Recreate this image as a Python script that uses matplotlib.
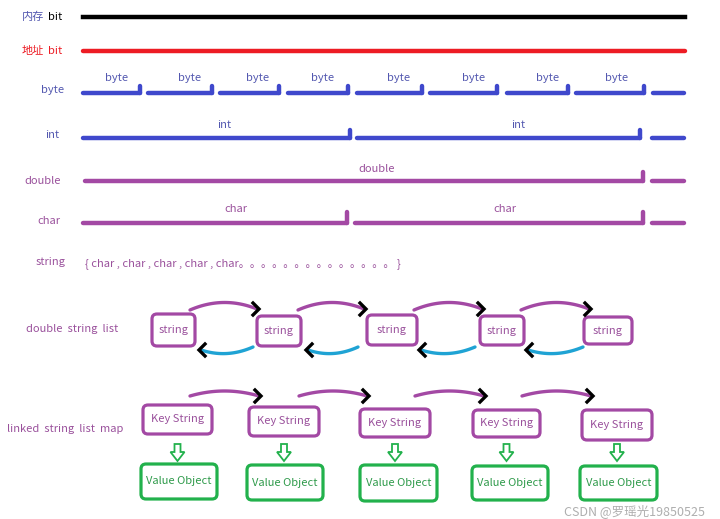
import numpy as np
import matplotlib.pyplot as plt
from matplotlib.patches import FancyBboxPatch, Polygon

plt.rcParams['font.family'] = ['Noto Sans CJK SC', 'DejaVu Sans']

BLUE = '#3f48cc'
PURPLE = '#a349a4'
RED = '#ed1c24'
CYAN = '#1fa3d4'
GREEN = '#22b14c'
TXT_BLUE = '#5358b0'
TXT_PURPLE = '#9a519c'
TXT_GREEN = '#2e9a4a'

# row labels
row_labels = ['byte', 'int', 'double', 'char', 'string', 'double  string  list', 'linked  string  list  map']
row_y = [90, 135, 181, 221, 262, 329, 429]
row_x = [53, 52, 43, 49, 51, 72, 65]

# segmented memory rows: (start, end, has_tick)
byte_segs = [(83, 140, 1), (148, 212, 1), (220, 279, 1), (288, 348, 1),
             (357, 422, 1), (430, 497, 1), (507, 568, 1), (576, 644, 1), (653, 684, 0)]
byte_label_x = [117, 190, 258, 323, 399, 474, 548, 617]
int_segs = [(83, 350, 1), (357, 640, 1), (652, 684, 0)]
int_label_x = [224, 518]
double_segs = [(85, 643, 1), (652, 684, 0)]
double_label_x = [377]
char_segs = [(83, 347, 1), (355, 643, 1), (652, 684, 0)]
char_label_x = [236, 505]

# double string list boxes (left, right, top, bottom)
dsl_boxes = [(152, 195, 314, 346), (257, 301, 316, 346), (367, 417, 315, 345),
             (480, 524, 316, 345), (584, 632, 317, 344)]
dsl_fwd = [(190, 259), (298, 366), (414, 484), (521, 591)]
dsl_back = [(253, 199), (358, 306), (475, 419), (583, 526)]

# linked map key / value boxes
key_boxes = [(143, 212, 405, 434), (249, 319, 407, 436), (360, 430, 409, 437),
             (473, 540, 410, 437), (582, 652, 410, 440)]
val_boxes = [(141, 217, 464, 499), (247, 323, 465, 500), (360, 437, 465, 501),
             (472, 548, 466, 500), (580, 657, 466, 500)]
map_fwd = [(190, 261), (299, 369), (415, 486), (522, 593)]

fig = plt.figure(figsize=(7.2, 5.19), dpi=100)
ax = fig.add_axes([0, 0, 1, 1])
ax.set_xlim(0, 720)
ax.set_ylim(519, 0)
ax.axis('off')


def seg_row(segs, y, color, tick_h, lw=3.2):
    for x0, x1, tick in segs:
        ax.plot([x0, x1], [y, y], color=color, lw=lw, solid_capstyle='round')
        if tick:
            ax.plot([x1, x1], [y, y - tick_h], color=color, lw=lw, solid_capstyle='round')


def curve(x0, y0, x1, y1, bend, color):
    t = np.linspace(0, 1, 40)
    cx, cy = (x0 + x1) / 2, (y0 + y1) / 2 + bend
    xs = (1 - t) ** 2 * x0 + 2 * (1 - t) * t * cx + t ** 2 * x1
    ys = (1 - t) ** 2 * y0 + 2 * (1 - t) * t * cy + t ** 2 * y1
    ax.plot(xs, ys, color=color, lw=2.4, solid_capstyle='round')


def chevron(x, y, direction):
    d = 6 * direction
    ax.plot([x - d, x, x - d], [y - 6, y, y + 6], color='black', lw=2.4,
            solid_joinstyle='miter')


def box(b, color, text, tcolor):
    x0, x1, y0, y1 = b
    ax.add_patch(FancyBboxPatch((x0, y0), x1 - x0, y1 - y0,
                                boxstyle='round,pad=0,rounding_size=5',
                                fc='none', ec=color, lw=2.3))
    ax.text((x0 + x1) / 2, (y0 + y1) / 2, text, color=tcolor, fontsize=8,
            ha='center', va='center')


# bit rows
ax.text(22, 17, '内存', color=TXT_BLUE, fontsize=8, ha='left', va='center')
ax.text(48, 17, 'bit', color='black', fontsize=8, ha='left', va='center')
ax.plot([83, 685], [17, 17], color='black', lw=3.2)
ax.text(22, 51, '地址', color=RED, fontsize=8, ha='left', va='center')
ax.text(48, 51, 'bit', color=RED, fontsize=8, ha='left', va='center')
ax.plot([83, 685], [51, 51], color=RED, lw=3.2, solid_capstyle='round')

label_colors = [TXT_BLUE, TXT_BLUE, TXT_PURPLE, TXT_PURPLE, TXT_PURPLE, TXT_PURPLE, TXT_PURPLE]
for lab, x, y, c in zip(row_labels, row_x, row_y, label_colors):
    ax.text(x, y, lab, color=c, fontsize=8, ha='center', va='center')

seg_row(byte_segs, 93, BLUE, 7)
for x in byte_label_x:
    ax.text(x, 78, 'byte', color=TXT_BLUE, fontsize=8, ha='center', va='center')
seg_row(int_segs, 138, BLUE, 8)
for x in int_label_x:
    ax.text(x, 125, 'int', color=TXT_BLUE, fontsize=8, ha='center', va='center')
seg_row(double_segs, 181, PURPLE, 9)
for x in double_label_x:
    ax.text(x, 169, 'double', color=TXT_PURPLE, fontsize=8, ha='center', va='center')
seg_row(char_segs, 223, PURPLE, 11)
for x in char_label_x:
    ax.text(x, 209, 'char', color=TXT_PURPLE, fontsize=8, ha='center', va='center')

ax.text(85, 264, '{ char , char , char , char , char' + '。' * 14 + ' }',
        color=TXT_PURPLE, fontsize=8, ha='left', va='center')

# double string list
for b in dsl_boxes:
    box(b, PURPLE, 'string', TXT_PURPLE)
for x0, x1 in dsl_fwd:
    curve(x0, 310, x1 - 2, 309, -14, PURPLE)
    chevron(x1, 309, 1)
for x0, x1 in dsl_back:
    curve(x0, 347, x1 + 2, 350, 10, CYAN)
    chevron(x1, 350, -1)

# linked string list map
for b in key_boxes:
    box(b, PURPLE, 'Key String', TXT_PURPLE)
for x0, x1 in map_fwd:
    curve(x0, 396, x1 - 2, 396, -10, PURPLE)
    chevron(x1, 396, 1)
for b in key_boxes:
    cx = (b[0] + b[1]) / 2
    ax.add_patch(Polygon([(cx - 3, 444), (cx + 3, 444), (cx + 3, 452), (cx + 7, 452),
                          (cx, 461), (cx - 7, 452), (cx - 3, 452)],
                         closed=True, fc='white', ec=GREEN, lw=1.3))
for b in val_boxes:
    box(b, GREEN, 'Value Object', TXT_GREEN)

# watermark, kept below the boxes
ax.text(705, 511, 'CSDN @罗瑶光19850525', color='#9a9a9a', alpha=0.8, fontsize=9,
        ha='right', va='center')

fig.savefig('out.png', dpi=100, facecolor='white')
